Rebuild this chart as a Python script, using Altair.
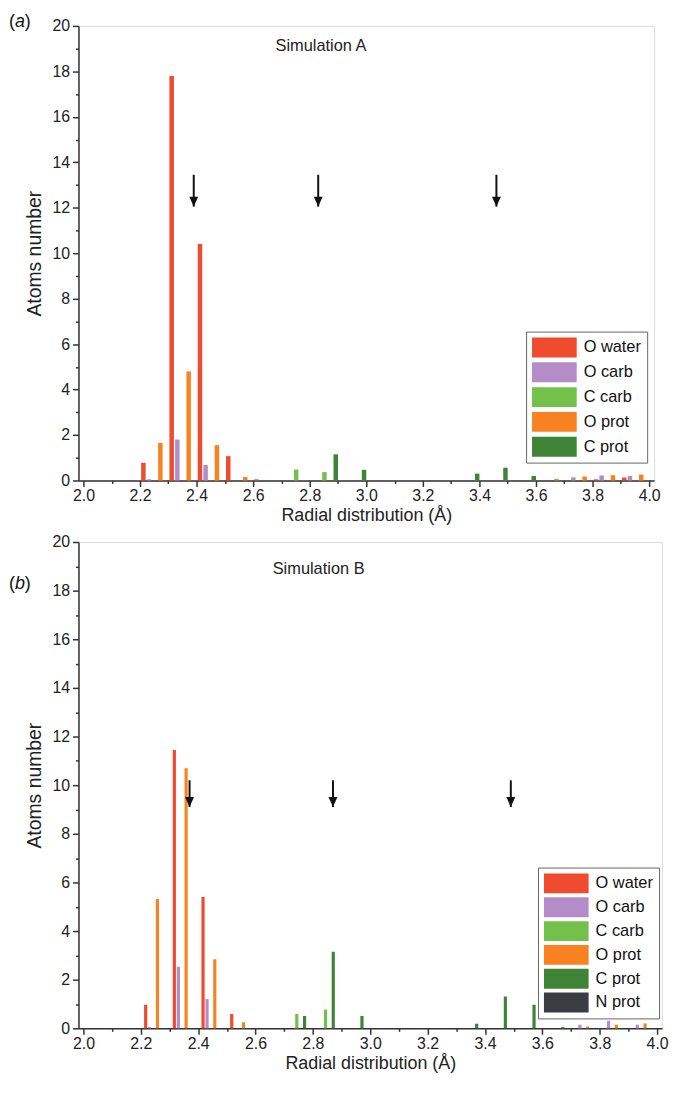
import altair as alt
import pandas as pd

# ---------------- data ----------------
bins = [2.2, 2.3, 2.4, 2.5, 2.6, 2.7, 2.8, 2.9, 3.0, 3.1, 3.2, 3.3, 3.4, 3.5, 3.6, 3.7, 3.8, 3.9]

series_a = ["O water", "O carb", "C carb", "O prot", "C prot"]
series_b = ["O water", "O carb", "C carb", "O prot", "C prot", "N prot"]
colors_a = ["#F04A2F", "#B48CC8", "#73C04B", "#F7821F", "#3F8436"]
colors_b = ["#F04A2F", "#B48CC8", "#73C04B", "#F7821F", "#3F8436", "#3A3D42"]

# position of each series inside a 0.1 A bin
offset_a = [0.012, 0.032, 0.052, 0.072, 0.092]
offset_b = [0.017, 0.031, 0.044, 0.058, 0.071, 0.085]

#            2.2   2.3   2.4   2.5   2.6  2.7   2.8   2.9  3.0 3.1 3.2  3.3   3.4   3.5  3.6   3.7   3.8   3.9
a_o_water = [0.78, 17.8, 10.4, 1.07, 0.05, 0,    0,    0,   0,  0,  0,   0,    0,    0,   0,    0,    0.05, 0.13]
a_o_carb  = [0.05, 1.8,  0.68, 0,    0,    0,    0,    0,   0,  0,  0,   0,    0,    0,   0,    0.14, 0.22, 0.2]
a_c_carb  = [0,    0,    0,    0,    0,    0.48, 0.37, 0,   0,  0,  0,   0,    0,    0,   0,    0,    0,    0]
a_o_prot  = [1.65, 4.8,  1.55, 0.15, 0,    0,    0,    0,   0,  0,  0,   0,    0,    0,   0.07, 0.17, 0.23, 0.26]
a_c_prot  = [0,    0,    0,    0,    0,    0,    1.15, 0.47, 0, 0,  0,   0.3,  0.56, 0.2, 0,    0,    0,    0]

b_o_water = [0.97, 11.45, 5.4, 0.59, 0,    0,    0,    0,   0,  0,  0,   0,    0,    0,   0,    0,    0,    0]
b_o_carb  = [0.05, 2.53, 1.2,  0,    0,    0,    0,    0,   0,  0,  0,   0,    0,    0,   0,    0.15, 0.31, 0.15]
b_c_carb  = [0,    0,    0,    0,    0,    0.59, 0.77, 0,   0,  0,  0,   0,    0,    0,   0,    0,    0,    0]
b_o_prot  = [5.32, 10.7, 2.84, 0.25, 0,    0,    0,    0,   0,  0,  0,   0,    0,    0,   0,    0.07, 0.15, 0.2]
b_c_prot  = [0,    0,    0,    0,    0,    0.51, 3.15, 0.51, 0, 0,  0,   0.19, 1.31, 0.97, 0.05, 0,   0,    0]
b_n_prot  = [0] * 18

arrows_a = [2.39, 2.83, 3.46]
arrows_b = [2.37, 2.87, 3.49]

x_ticks = [2.0, 2.2, 2.4, 2.6, 2.8, 3.0, 3.2, 3.4, 3.6, 3.8, 4.0]
x_minor = [2.1, 2.3, 2.5, 2.7, 2.9, 3.1, 3.3, 3.5, 3.7, 3.9]
y_ticks = [0, 2, 4, 6, 8, 10, 12, 14, 16, 18, 20]
y_minor = [1, 3, 5, 7, 9, 11, 13, 15, 17, 19]

FONT = "Liberation Sans"


def table(series, offsets, columns):
    rows = []
    for name, off, vals in zip(series, offsets, columns):
        for b, v in zip(bins, vals):
            if v > 0:
                rows.append({"series": name, "r": round(b + off, 4), "n": v})
    return pd.DataFrame(rows)


df_a = table(series_a, offset_a, [a_o_water, a_o_carb, a_c_carb, a_o_prot, a_c_prot])
df_b = table(series_b, offset_b, [b_o_water, b_o_carb, b_c_carb, b_o_prot, b_c_prot, b_n_prot])

AX = dict(grid=False, domainColor="#333", tickColor="#333", domainWidth=1.5, tickWidth=1.5,
          labelColor="#222", titleColor="#222", labelFont=FONT, titleFont=FONT,
          titleFontWeight="normal", labelFontSize=16)


def panel(df, series, colors, w, h, bar_size, arrows, arrow_top, arrow_tip,
          title_text, title_x, title_y, letter, letter_y, leg_x, leg_y, row_pad):
    xs = alt.Scale(domain=[2.0, 4.0], nice=False, zero=False)
    ys = alt.Scale(domain=[0, 20], nice=False)

    # minor ticks (an axis without labels) on the first layer
    mdf = pd.DataFrame({"x": [2.0], "y": [0]})
    minor = alt.Chart(mdf).mark_point(opacity=0).encode(
        x=alt.X("x:Q", scale=xs,
                axis=alt.Axis(values=x_minor, labels=False, tickSize=3, domain=False,
                              title=None, grid=False, orient="bottom", tickColor="#333",
                              tickWidth=1.5)),
        y=alt.Y("y:Q", scale=ys,
                axis=alt.Axis(values=y_minor, labels=False, tickSize=3, domain=False,
                              title=None, grid=False, orient="left", tickColor="#333",
                              tickWidth=1.5)),
    )

    bars = alt.Chart(df).mark_bar(size=bar_size).encode(
        x=alt.X("r:Q", scale=xs, title="Radial distribution (Å)",
                axis=alt.Axis(values=x_ticks, format=".1f", tickSize=6, labelPadding=1,
                              titlePadding=3, orient="bottom", titleFontSize=18, **AX)),
        y=alt.Y("n:Q", scale=ys, title="Atoms number",
                axis=alt.Axis(values=y_ticks, tickSize=6, labelPadding=3, titlePadding=7,
                              orient="left", titleFontSize=19.5, **AX)),
        color=alt.Color("series:N", scale=alt.Scale(domain=series, range=colors),
                        legend=alt.Legend(title=None, orient="none", legendX=leg_x, legendY=leg_y,
                                          symbolType="M-1,-1H3.5V1H-1Z", symbolSize=400,
                                          symbolStrokeWidth=0, symbolOpacity=1,
                                          labelFontSize=16.5, labelFont=FONT, labelColor="#111",
                                          labelOffset=32, rowPadding=row_pad, padding=6,
                                          strokeColor="#666", fillColor="white",
                                          labelLimit=200)),
    )

    arr = pd.DataFrame({"x": arrows, "top": [arrow_top] * len(arrows), "tip": [arrow_tip] * len(arrows)})
    shaft = alt.Chart(arr).mark_rule(color="#111", strokeWidth=2).encode(
        x=alt.X("x:Q", scale=xs, axis=None),
        y=alt.Y("top:Q", scale=ys, axis=None),
        y2="tip:Q",
    )
    head = alt.Chart(arr).mark_point(shape="M-0.9,-2L0.9,-2L0,0Z", size=100, filled=True,
                                     color="#111", opacity=1).encode(
        x=alt.X("x:Q", scale=xs, axis=None), y=alt.Y("tip:Q", scale=ys, axis=None))

    ttl = pd.DataFrame({"x": [title_x], "y": [title_y], "t": [title_text]})
    title = alt.Chart(ttl).mark_text(fontSize=16.5, font=FONT, color="#222").encode(
        x=alt.X("x:Q", scale=xs, axis=None), y=alt.Y("y:Q", scale=ys, axis=None), text="t:N")

    # panel letter: "(" + italic letter + ")"
    parts = pd.DataFrame({"t": ["(", letter, ")"], "px": [-70, -64, -54],
                          "it": ["normal", "italic", "normal"]})
    lab_n = alt.Chart(parts[parts.it == "normal"]).mark_text(
        fontSize=18, font=FONT, color="#111", align="left").encode(
        x=alt.X("px:Q", scale=None, axis=None), y=alt.value(letter_y), text="t:N")
    lab_i = alt.Chart(parts[parts.it == "italic"]).mark_text(
        fontSize=18, font=FONT, color="#111", align="left", fontStyle="italic").encode(
        x=alt.X("px:Q", scale=None, axis=None), y=alt.value(letter_y), text="t:N")

    return alt.layer(minor, bars, shaft, head, title, lab_n, lab_i).resolve_axis(
        x="independent", y="independent").properties(width=w, height=h)


pa = panel(df_a, series_a, colors_a, 580, 458, 4.5, arrows_a, 13.45, 12.05,
           "Simulation A", 2.84, 19.1, "a", -4, 451, 308, 5)
pb = panel(df_b, series_b, colors_b, 588, 490, 3.2, arrows_b, 10.2, 9.1,
           "Simulation B", 2.82, 18.9, "b", 42, 463, 328, 4)

chart = alt.vconcat(pa, pb, spacing=62, bounds="flush").resolve_scale(
    color="independent").properties(
    padding={"left": 0, "top": 0, "right": 0, "bottom": 0}
).configure_view(stroke=None).configure(background="white")

chart.save("out.html", embed_options={"renderer": "svg", "actions": False})
